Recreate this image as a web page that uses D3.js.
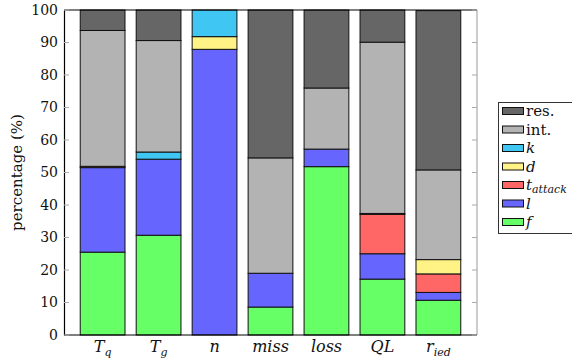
<!DOCTYPE html>
<html><head><meta charset="utf-8">
<script src="https://cdn.jsdelivr.net/npm/d3@7"></script>
<style>body{margin:0;background:#fff}svg{display:block}text{font-family:"DejaVu Serif",serif}</style>
</head><body>
<svg id="c" width="572" height="360"></svg>
<script>
const categories = ["T_q","T_g","n","miss","loss","QL","r_ied"];
const catMain = ["T","T","n","miss","loss","QL","r"];
const catSub  = ["q","g","","","","","ied"];
const seriesKeys = ["f","l","tAttack","d","k","int","res"];
const f       = [25.5, 30.7, 0,    8.6, 51.8, 17.2, 10.7];
const l       = [26.0, 23.4, 87.9, 10.4, 5.4, 7.8,  2.4];
const tAttack = [0.4,  0,    0,    0,    0,   12.1, 5.7];
const d       = [0,    0,    3.9,  0,    0,   0.3,  4.4];
const k       = [0,    2.2,  8.2,  0,    0,   0,    0];
const int_    = [41.8, 34.3, 0,    35.5, 18.8, 52.7, 27.6];
const res     = [6.3,  9.4,  0,    45.5, 24.0, 9.9,  49.0];
const yTicks  = [0,10,20,30,40,50,60,70,80,90,100];
const colors  = {f:"#66ff66", l:"#6666ff", tAttack:"#ff6666", d:"#fff386", k:"#40c6f2", int:"#b3b3b3", res:"#666666"};
const legendItems = [
  {key:"res", main:"res.", sub:"", it:false},
  {key:"int", main:"int.", sub:"", it:false},
  {key:"k", main:"k", sub:"", it:true},
  {key:"d", main:"d", sub:"", it:true},
  {key:"tAttack", main:"t", sub:"attack", it:true},
  {key:"l", main:"l", sub:"", it:true},
  {key:"f", main:"f", sub:"", it:true}
];

const seriesVals = {f, l, tAttack, d, k, int: int_, res};
const table = categories.map((c,i)=>{const o={cat:c}; seriesKeys.forEach(s=>o[s]=seriesVals[s][i]); return o;});

const svg = d3.select("#c");
const L=64, R=477, T=10, B=335;
const x = d3.scaleBand().domain(categories).range([L,R]).paddingInner(0.2).paddingOuter(0.29);
const y = d3.scaleLinear().domain([0,100]).range([B,T]);

const stack = d3.stack().keys(seriesKeys)(table);

const g = svg.append("g");
stack.forEach(layer=>{
  g.selectAll(null).data(layer.filter(p=>p[1]-p[0]>0)).enter().append("rect")
    .attr("x", p=>x(p.data.cat))
    .attr("width", x.bandwidth())
    .attr("y", p=>y(p[1]))
    .attr("height", p=>y(p[0])-y(p[1]))
    .attr("fill", colors[layer.key])
    .attr("stroke", "#111")
    .attr("stroke-width", 1);
});

// frame
svg.append("line").attr("x1",R).attr("x2",R).attr("y1",T).attr("y2",B).attr("stroke","#999").attr("stroke-width",1);
svg.append("line").attr("x1",L).attr("x2",R).attr("y1",T).attr("y2",T).attr("stroke","#000").attr("stroke-width",1.2);
svg.append("line").attr("x1",L).attr("x2",R).attr("y1",B).attr("y2",B).attr("stroke","#000").attr("stroke-width",1.2);

// left axis
const ax = svg.append("g").attr("transform",`translate(${L},0)`)
  .call(d3.axisLeft(y).tickValues(yTicks).tickSize(0).tickPadding(6));
ax.select(".domain").attr("stroke","#000").attr("stroke-width",1.2);
ax.selectAll("text").attr("font-size",14).attr("fill","#111").style("font-family","DejaVu Serif");
// inner ticks
yTicks.forEach(t=>{
  svg.append("line").attr("x1",L).attr("x2",L+5).attr("y1",y(t)).attr("y2",y(t)).attr("stroke","#aaa");
  svg.append("line").attr("x1",R-5).attr("x2",R).attr("y1",y(t)).attr("y2",y(t)).attr("stroke","#aaa");
});

// y label
svg.append("text").attr("transform",`translate(22,${(T+B)/2}) rotate(-90)`)
  .attr("text-anchor","middle").attr("font-size",15).attr("fill","#111").text("percentage (%)");

// x labels
categories.forEach((c,i)=>{
  const t = svg.append("text").attr("x", x(c)+x.bandwidth()/2).attr("y",352)
    .attr("text-anchor","middle").attr("font-size",16).attr("font-style","italic").attr("fill","#111");
  t.append("tspan").text(catMain[i]);
  if(catSub[i]) t.append("tspan").attr("font-size",11).attr("dy",4).text(catSub[i]);
});

// legend
const lg = svg.append("g");
lg.append("rect").attr("x",498.5).attr("y",102.5).attr("width",90).attr("height",131).attr("fill","#fff").attr("stroke","#333");
legendItems.forEach((it,i)=>{
  const cy = 111 + i*18.5;
  lg.append("rect").attr("x",502.5).attr("y",cy-3.5).attr("width",21).attr("height",7)
    .attr("fill",colors[it.key]).attr("stroke","#111");
  const t = lg.append("text").attr("x",526).attr("y",cy+5).attr("font-size",15).attr("fill","#111")
    .attr("font-style", it.it?"italic":"normal");
  t.append("tspan").text(it.main);
  if(it.sub) t.append("tspan").attr("font-size",11).attr("dy",3).text(it.sub);
});
</script>
</body></html>
